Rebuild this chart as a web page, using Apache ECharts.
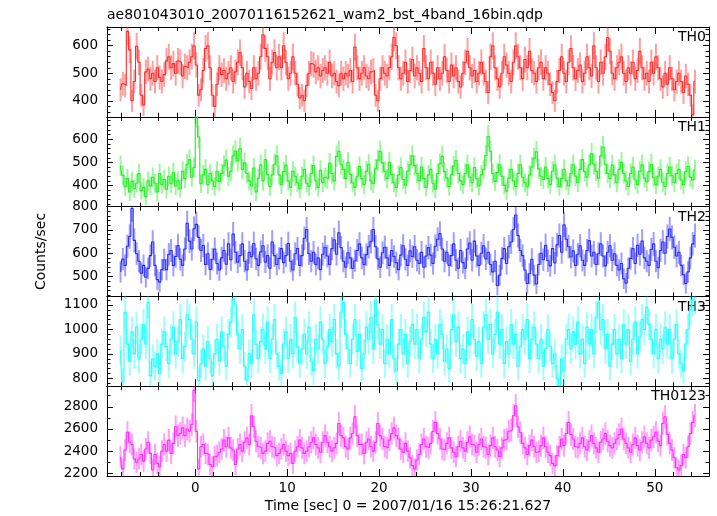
<!DOCTYPE html>
<html><head><meta charset="utf-8">
<script src="https://cdn.jsdelivr.net/npm/echarts@6/dist/echarts.min.js"></script>
<style>html,body{margin:0;padding:0;background:#fff}#c{width:717px;height:516px}</style>
</head><body><div id="c"></div>
<script>
// ---- data (counts/sec per 0.25 s bin, first bin centred at -8.125 s) ----
const binWidth = 0.25;
const firstBinTime = -8.125;
const th0 = [
440,462,455,652,585,400,470,598,540,420,
385,505,515,480,500,470,520,485,470,495,
545,560,520,535,500,545,540,490,525,520,
540,560,600,530,420,440,510,590,600,520,
420,380,460,520,495,510,480,500,520,470,
505,540,575,520,450,500,470,445,520,480,
500,560,640,590,560,480,540,575,520,560,
520,600,540,480,500,560,500,460,410,420,
400,455,500,535,530,505,520,490,510,520,
500,540,490,500,470,455,500,480,500,490,
510,470,595,520,480,500,520,490,480,505,
510,420,400,480,520,500,490,520,560,630,
600,520,480,500,540,470,510,550,490,520,
500,470,590,520,480,540,500,460,520,480,
500,560,510,470,530,490,520,470,450,500,
540,580,520,490,510,470,500,540,500,470,
430,560,600,520,480,450,500,560,530,500,
470,540,600,560,520,480,550,520,580,510,
500,470,520,540,480,520,500,460,430,400,
470,510,560,500,470,540,590,520,480,510,
530,470,500,560,520,490,600,520,470,540,
500,560,630,580,500,480,520,540,560,500,
470,520,500,540,480,510,580,520,480,500,
470,540,500,560,520,480,450,500,460,520,
480,440,470,500,470,430,490,460,420,350,
470];
const th1 = [
485,445,395,430,372,418,386,410,452,378,
392,352,420,398,436,410,372,452,404,426,
384,440,408,456,398,420,386,462,430,492,
512,436,478,702,610,408,446,470,404,452,
420,396,462,418,452,486,510,440,462,528,
548,506,560,470,498,452,420,398,476,372,
432,490,420,512,448,396,446,492,528,446,
404,460,488,420,392,462,440,412,386,440,
470,410,396,452,486,420,392,466,412,436,
428,496,452,420,526,548,492,470,430,500,
448,412,392,440,482,430,404,462,492,420,
408,472,510,548,498,462,430,500,448,412,
392,446,478,426,402,462,490,528,486,452,
420,480,430,392,446,470,410,384,452,494,
526,460,432,396,446,484,508,452,420,404,
452,490,436,412,478,430,398,446,470,530,
612,548,452,418,456,490,440,402,376,432,
470,420,396,452,490,436,412,394,446,480,
518,546,472,440,426,480,430,404,462,490,
432,396,430,470,420,398,452,490,440,412,
470,512,460,436,490,538,492,462,432,528,
566,492,452,430,488,446,412,470,500,452,
420,396,452,480,424,404,462,490,432,416,
460,492,436,404,440,470,414,396,452,480,
442,412,452,470,424,404,462,482,436,424,
468];
const th2 = [
520,575,548,630,672,792,655,598,566,515,
548,497,535,590,648,548,487,476,530,572,
530,595,612,548,586,633,574,548,618,728,
652,618,705,724,668,612,633,552,598,531,
574,618,556,528,580,612,553,640,572,682,
604,562,590,640,566,528,604,585,642,576,
548,606,632,562,590,536,648,590,552,578,
620,560,590,642,566,528,598,620,548,590,
664,702,598,566,604,552,580,530,596,626,
588,552,620,658,596,688,624,566,540,602,
580,536,568,612,640,580,552,594,628,650,
702,628,576,540,602,626,580,548,612,586,
560,530,592,632,574,548,610,586,628,570,
556,604,540,588,624,592,556,630,660,684,
618,566,604,548,590,640,570,536,612,560,
536,618,644,570,652,588,548,600,632,576,
604,552,520,566,462,506,578,620,556,628,
648,702,764,676,612,590,528,470,512,574,
506,468,552,600,572,634,568,546,620,558,
636,676,604,722,660,628,584,610,548,596,
632,570,548,612,654,588,604,552,598,640,
588,546,604,632,570,598,548,528,556,490,
472,536,578,620,556,634,596,652,580,566,
548,616,640,566,538,612,648,600,672,704,
668,626,588,604,548,508,470,520,580,640,
676];
const th3 = [
915,785,1070,940,870,990,900,1010,880,960,
1020,940,1110,810,880,850,900,820,940,990,
930,860,960,1010,900,950,1040,880,930,1060,
1040,960,900,1030,790,860,920,850,950,880,
810,900,960,870,990,930,850,980,1030,1125,
1100,980,920,1000,850,790,900,860,1060,940,
880,950,1000,920,1030,880,960,1040,900,850,
820,940,990,880,960,900,1050,930,860,920,
980,900,1010,870,830,960,920,1030,960,860,
930,1000,950,1040,900,850,1070,1110,980,920,
860,960,1040,910,980,840,900,1010,960,1050,
920,1120,1020,940,1000,860,960,900,1040,880,
830,940,1000,900,980,860,950,1020,940,1000,
880,960,1050,990,1070,940,880,960,900,1020,
980,870,920,840,1000,1060,950,1010,880,920,
860,990,940,1040,960,890,950,860,1010,1060,
960,1020,900,980,1070,940,1000,860,950,900,
1020,940,980,850,930,1000,960,1040,880,960,
1010,940,880,960,850,920,1000,930,860,900,
800,770,880,830,960,1000,920,990,940,1030,
900,960,860,1010,940,1000,900,1050,1110,1000,
1040,920,980,850,940,1000,900,960,880,1020,
940,1000,870,960,1030,900,970,1040,1000,1090,
1020,960,900,1000,880,960,920,1010,940,1000,
880,960,1020,900,860,830,940,1000,1080,1120,
1130];
const th0123 = [
2350,2240,2410,2570,2480,2460,2330,2300,2330,2370,
2310,2420,2480,2380,2230,2370,2290,2260,2400,2460,
2400,2500,2380,2470,2620,2540,2560,2610,2540,2600,
2580,2640,2950,2580,2240,2440,2460,2380,2370,2280,
2260,2350,2360,2390,2420,2500,2440,2520,2430,2410,
2280,2420,2460,2400,2480,2520,2460,2720,2620,2490,
2440,2430,2380,2400,2470,2490,2440,2430,2360,2380,
2420,2460,2400,2360,2380,2290,2400,2440,2500,2430,
2380,2400,2440,2480,2520,2460,2430,2390,2480,2540,
2480,2440,2400,2430,2470,2650,2540,2520,2440,2420,
2520,2560,2710,2540,2460,2460,2380,2480,2510,2440,
2400,2480,2650,2540,2510,2440,2430,2500,2560,2610,
2540,2510,2420,2390,2470,2400,2340,2270,2240,2320,
2370,2460,2510,2440,2430,2470,2580,2660,2560,2510,
2420,2410,2470,2520,2430,2390,2350,2440,2490,2430,
2400,2480,2530,2460,2450,2390,2460,2510,2440,2430,
2370,2450,2520,2440,2410,2350,2430,2500,2510,2580,
2590,2720,2810,2620,2570,2470,2430,2370,2450,2500,
2440,2390,2400,2450,2520,2440,2390,2360,2290,2270,
2360,2440,2510,2450,2560,2660,2550,2510,2440,2430,
2470,2520,2440,2410,2490,2540,2470,2430,2390,2480,
2510,2560,2490,2450,2430,2470,2510,2550,2600,2510,
2470,2430,2390,2460,2520,2450,2410,2480,2530,2470,
2430,2500,2530,2570,2490,2450,2650,2710,2550,2470,
2410,2340,2250,2230,2270,2370,2340,2440,2560,2660,
2720];

const panelNames = ['TH0', 'TH1', 'TH2', 'TH3', 'TH0123'];
const panelData = [th0, th1, th2, th3, th0123];
const yMin = [342, 309, 415, 768, 2176];
const yMax = [668, 697, 800, 1135, 2986];
const yMajorStep = [100, 100, 100, 100, 200];
const yMinorStep = [20, 20, 20, 20, 100];
const xMin = -9.6, xMax = 55.9;
const xMajorStep = 10, xMinorStep = 2;
const titleText = 'ae801043010_20070116152621_wam2_bst_4band_16bin.qdp';
const xTitle = 'Time [sec] 0 = 2007/01/16 15:26:21.627';
const yTitle = 'Counts/sec';

// ---- styling / layout ----
const colors = ['#ff2a2a', '#22ee22', '#2a2aff', '#22ffff', '#ff2aff'];
const FONT = 'DejaVu Sans';
const L = 107, R = 8, T0 = 27, H = 89.8;

function ticks(a, b, step) {
  const out = [];
  for (let v = Math.ceil(a / step - 1e-9) * step; v <= b + 1e-9; v += step) out.push(+v.toFixed(6));
  return out;
}
const xMajor = ticks(xMin, xMax, xMajorStep);
const xMinor = ticks(xMin, xMax, xMinorStep);

const grids = [], xAxes = [], yAxes = [], series = [], graphics = [];

function xAxisDef(k, pos, vals, len, showLine, showLabel) {
  return {
    gridIndex: k, type: 'value', position: pos, min: xMin, max: xMax,
    axisLine: { show: showLine, onZero: false, lineStyle: { color: '#000', width: 1 } },
    axisTick: { show: true, inside: true, length: len, customValues: vals, lineStyle: { color: '#000', width: 1 } },
    axisLabel: { show: showLabel, customValues: vals, color: '#000', fontFamily: FONT, fontSize: 13.5, margin: 5, formatter: v => String(v) },
    splitLine: { show: false }
  };
}
function yAxisDef(k, pos, vals, len, showLine, showLabel) {
  return {
    gridIndex: k, type: 'value', position: pos, min: yMin[k], max: yMax[k],
    axisLine: { show: showLine, onZero: false, lineStyle: { color: '#000', width: 1 } },
    axisTick: { show: true, inside: true, length: len, customValues: vals, lineStyle: { color: '#000', width: 1 } },
    axisLabel: { show: showLabel, customValues: vals, color: '#000', fontFamily: FONT, fontSize: 13.5, margin: 9, formatter: v => String(v) },
    splitLine: { show: false }
  };
}

function makeErr(color) {
  return function (params, api) {
    const cs = params.coordSys;
    const t = api.value(0), v = api.value(1), e = api.value(2);
    const p1 = api.coord([t, v - e]);
    const p2 = api.coord([t, v + e]);
    const top = cs.y, bot = cs.y + cs.height;
    const y1 = Math.min(Math.max(p1[1], top), bot);
    const y2 = Math.min(Math.max(p2[1], top), bot);
    if (p1[0] < cs.x || p1[0] > cs.x + cs.width) return null;
    return {
      type: 'line', shape: { x1: p1[0], y1: y1, x2: p2[0], y2: y2 },
      style: { stroke: color, lineWidth: 2, opacity: 0.45 }
    };
  };
}

for (let k = 0; k < 5; k++) {
  const top = T0 + k * H;
  grids.push({ left: L, right: R, top: top, height: H, show: false });
  const xb = xAxes.length;
  xAxes.push(xAxisDef(k, 'bottom', xMajor, 7, true, k === 4));
  xAxes.push(xAxisDef(k, 'bottom', xMinor, 4, false, false));
  xAxes.push(xAxisDef(k, 'top', xMajor, 7, true, false));
  xAxes.push(xAxisDef(k, 'top', xMinor, 4, false, false));
  const yMaj = ticks(yMin[k], yMax[k], yMajorStep[k]);
  const yMinr = ticks(yMin[k], yMax[k], yMinorStep[k]);
  const yb = yAxes.length;
  yAxes.push(yAxisDef(k, 'left', yMaj, 6, true, true));
  yAxes.push(yAxisDef(k, 'left', yMinr, 3.5, false, false));
  yAxes.push(yAxisDef(k, 'right', yMaj, 6, true, false));
  yAxes.push(yAxisDef(k, 'right', yMinr, 3.5, false, false));

  const vals = panelData[k];
  const times = vals.map((v, i) => firstBinTime + i * binWidth);
  // Poisson error of the rate in a bin: sqrt(rate*binWidth)/binWidth
  const errData = vals.map((v, i) => [times[i], v, Math.sqrt(v * binWidth) / binWidth]);
  series.push({
    type: 'custom', xAxisIndex: xb, yAxisIndex: yb, renderItem: makeErr(colors[k]),
    data: errData, silent: true, z: 2
  });
  series.push({
    type: 'line', xAxisIndex: xb, yAxisIndex: yb, step: 'middle',
    data: vals.map((v, i) => [times[i], v]), showSymbol: false, symbol: 'none',
    lineStyle: { color: colors[k], width: 1.1 }, itemStyle: { color: colors[k] },
    silent: true, z: 3, clip: true
  });
  graphics.push({
    type: 'text', x: 706, y: top + 10.5,
    style: { text: panelNames[k], align: 'right', verticalAlign: 'middle', font: '14px "' + FONT + '"', fill: '#000' }
  });
}
xAxes[16].name = xTitle;
xAxes[16].nameLocation = 'middle';
xAxes[16].nameGap = 23;
xAxes[16].nameTextStyle = { color: '#000', fontFamily: FONT, fontSize: 14, verticalAlign: 'top' };

graphics.push({
  type: 'text', x: 107, y: 15,
  style: { text: titleText, align: 'left', verticalAlign: 'middle', font: '14px "' + FONT + '"', fill: '#000' }
});
graphics.push({
  type: 'text', x: 41, y: 251.5, rotation: Math.PI / 2,
  style: { text: yTitle, align: 'center', verticalAlign: 'middle', font: '14px "' + FONT + '"', fill: '#000' }
});

const chart = echarts.init(document.getElementById('c'), null, { renderer: 'canvas' });
chart.setOption({
  animation: false,
  backgroundColor: '#fff',
  grid: grids, xAxis: xAxes, yAxis: yAxes, series: series,
  graphic: graphics
});
</script>
</body></html>
